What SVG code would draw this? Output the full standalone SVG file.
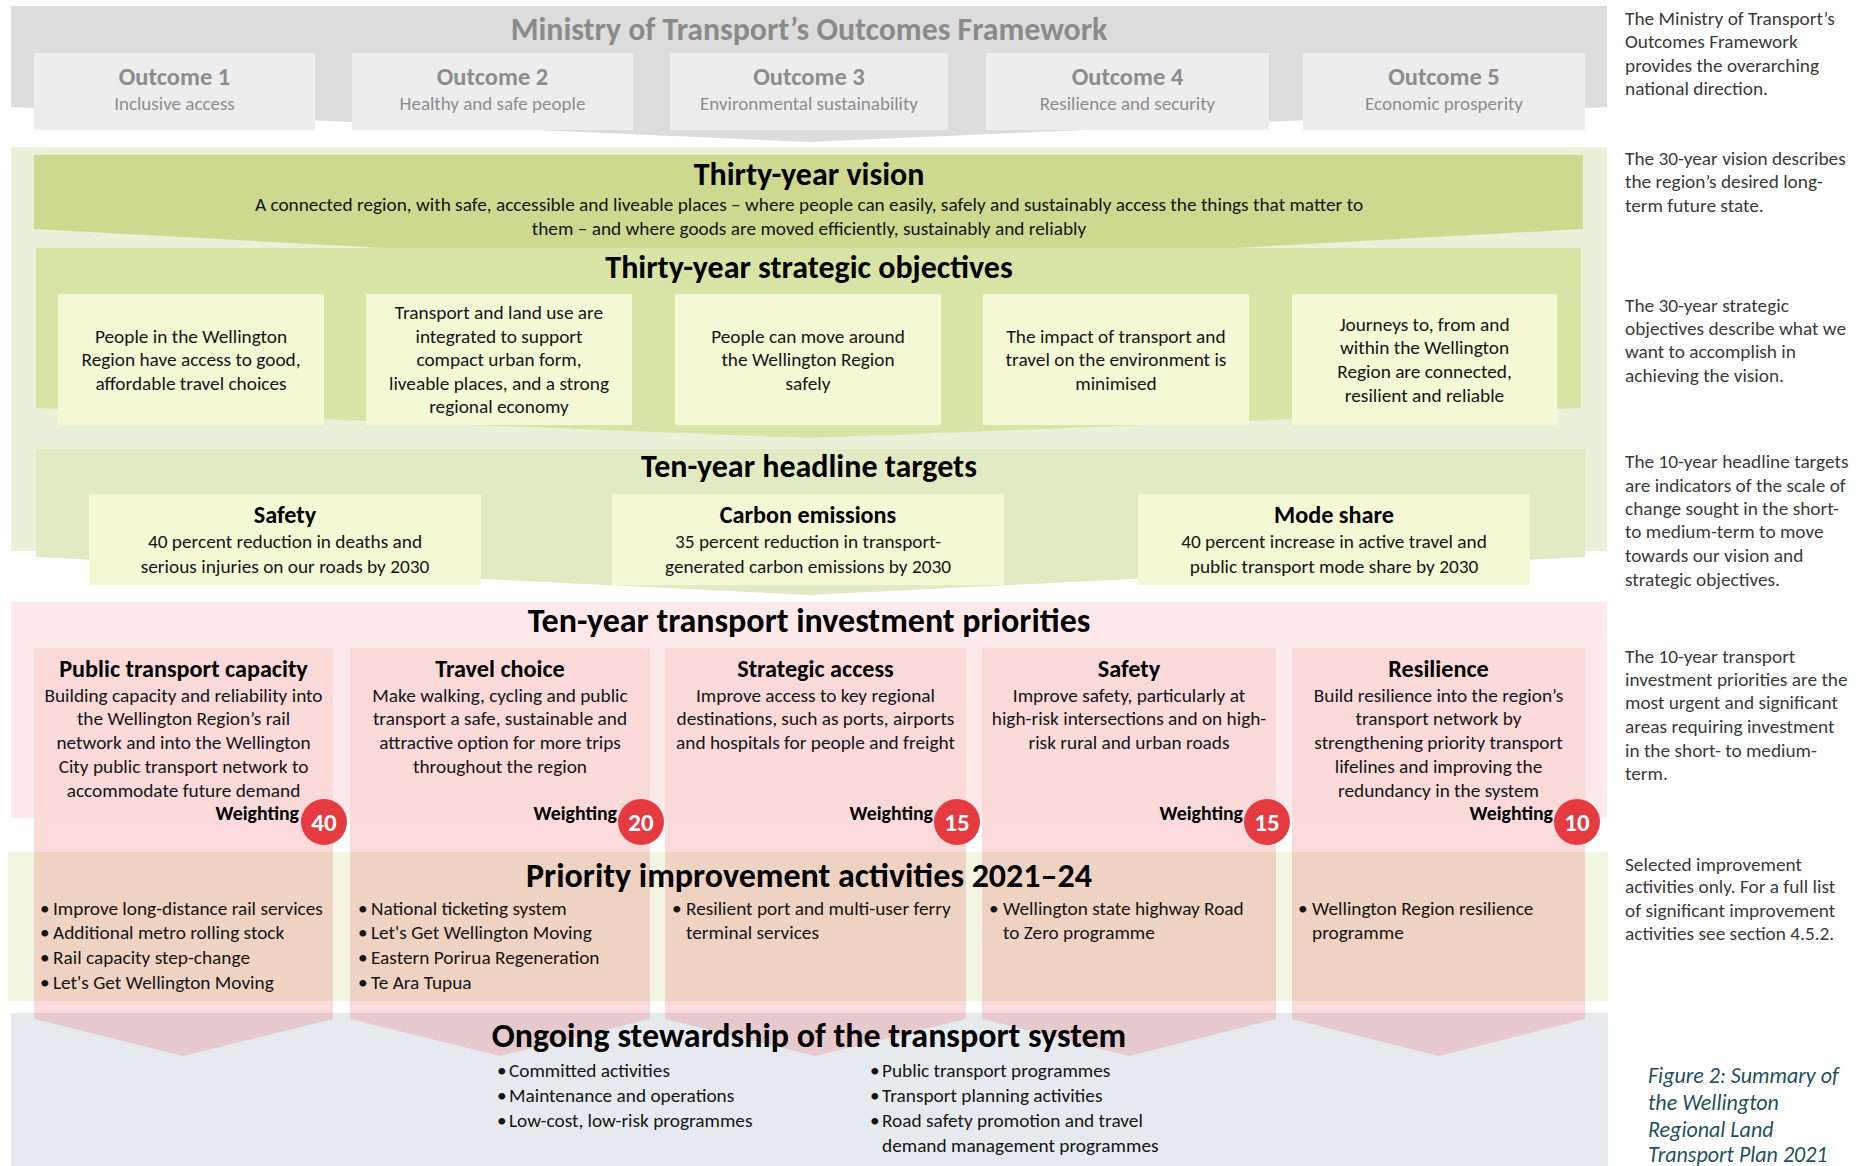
<svg xmlns="http://www.w3.org/2000/svg" width="1858" height="1166" viewBox="0 0 1858 1166">
<style>
text{font-family:Carlito,"Liberation Sans Narrow","Liberation Sans",sans-serif;fill:#141414}
.h{font-size:32px;font-weight:bold;text-anchor:middle;fill:#000}
.hb{font-size:34px;font-weight:bold;text-anchor:middle;fill:#000}
.ht{font-size:31.8px;font-weight:bold;text-anchor:middle;fill:#8a8a8a}
.ot{font-size:24.5px;font-weight:bold;text-anchor:middle;fill:#8c8c8c}
.os{font-size:19px;text-anchor:middle;fill:#8c8c8c}
.b{font-size:19.3px;text-anchor:middle}
.bl{font-size:19.3px}
.t{font-size:24.2px;font-weight:bold;text-anchor:middle;fill:#000}
.w{font-size:19.8px;font-weight:bold;text-anchor:end;fill:#000}
.n{font-size:25px;font-weight:bold;text-anchor:middle;fill:#fff}
.note{font-size:19.3px;fill:#3a3a3a}
.cap{font-size:22px;font-style:italic;fill:#1f4f5f}
.obox{fill:#ededed}
.gbox{fill:#f4f8d4}
.col{fill:#fad9d9}
.colx{fill:#e64646;fill-opacity:0.2}
.circ{fill:#e53a40}
</style>

<g id="bands">
  <polygon points="11,6 1607,6 1607,107 809,142 11,107" fill="#dcdcdc"/>
  <rect x="11" y="147" width="1596" height="404" fill="#ebf1d8"/>
  <polygon points="34,155 1583,155 1583,229 809,271 34,229" fill="#cdd98e"/>
  <polygon points="36,248 1581,248 1581,408 809,438 36,408" fill="#d8e3a6"/>
  <polygon points="36,449 1585,449 1585,557 809,595 36,557" fill="#e2eac3"/>
  <rect x="11" y="602" width="1596" height="216" fill="#fde9e9"/>
  <rect x="8" y="852" width="1600" height="149" fill="#f1f5e2"/>
  <rect x="11" y="1013" width="1597" height="153" fill="#e6eaee"/>
</g>

<g id="connectors"></g>

<g id="framework">
  <text class="ht" x="809" y="40">Ministry of Transport’s Outcomes Framework</text>
</g>
<g id="outcome1"><rect class="obox" x="34" y="53" width="281" height="77"/><text class="ot" x="174.5" y="85">Outcome 1</text><text class="os" x="174.5" y="110">Inclusive access</text></g>
<g id="outcome2"><rect class="obox" x="352" y="53" width="281" height="77"/><text class="ot" x="492.5" y="85">Outcome 2</text><text class="os" x="492.5" y="110">Healthy and safe people</text></g>
<g id="outcome3"><rect class="obox" x="670" y="53" width="278" height="77"/><text class="ot" x="809" y="85">Outcome 3</text><text class="os" x="809" y="110">Environmental sustainability</text></g>
<g id="outcome4"><rect class="obox" x="986" y="53" width="283" height="77"/><text class="ot" x="1127.5" y="85">Outcome 4</text><text class="os" x="1127.5" y="110">Resilience and security</text></g>
<g id="outcome5"><rect class="obox" x="1303" y="53" width="282" height="77"/><text class="ot" x="1444" y="85">Outcome 5</text><text class="os" x="1444" y="110">Economic prosperity</text></g>

<g id="vision">
  <text class="h" x="809" y="185">Thirty-year vision</text>
  <text class="b" x="809" y="211">A connected region, with safe, accessible and liveable places – where people can easily, safely and sustainably access the things that matter to</text>
  <text class="b" x="809" y="235">them – and where goods are moved efficiently, sustainably and reliably</text>
</g>

<g id="objectives">
  <text class="h" x="809" y="278">Thirty-year strategic objectives</text>
</g>
<g id="objective1"><rect class="gbox" x="58" y="294" width="266" height="131"/>
  <text class="b" x="191" y="343">People in the Wellington</text><text class="b" x="191" y="366">Region have access to good,</text><text class="b" x="191" y="390">affordable travel choices</text></g>
<g id="objective2"><rect class="gbox" x="366" y="294" width="266" height="131"/>
  <text class="b" x="499" y="319">Transport and land use are</text><text class="b" x="499" y="343">integrated to support</text><text class="b" x="499" y="366">compact urban form,</text><text class="b" x="499" y="390">liveable places, and a strong</text><text class="b" x="499" y="413">regional economy</text></g>
<g id="objective3"><rect class="gbox" x="675" y="294" width="266" height="131"/>
  <text class="b" x="808" y="343">People can move around</text><text class="b" x="808" y="366">the Wellington Region</text><text class="b" x="808" y="390">safely</text></g>
<g id="objective4"><rect class="gbox" x="983" y="294" width="266" height="131"/>
  <text class="b" x="1116" y="343">The impact of transport and</text><text class="b" x="1116" y="366">travel on the environment is</text><text class="b" x="1116" y="390">minimised</text></g>
<g id="objective5"><rect class="gbox" x="1292" y="294" width="265" height="131"/>
  <text class="b" x="1424.5" y="331">Journeys to, from and</text><text class="b" x="1424.5" y="354">within the Wellington</text><text class="b" x="1424.5" y="378">Region are connected,</text><text class="b" x="1424.5" y="402">resilient and reliable</text></g>

<g id="targets">
  <text class="h" x="809" y="477">Ten-year headline targets</text>
</g>
<g id="target-safety"><rect class="gbox" x="89" y="494" width="392" height="91"/>
  <text class="t" x="285" y="523">Safety</text><text class="b" x="285" y="548">40 percent reduction in deaths and</text><text class="b" x="285" y="573">serious injuries on our roads by 2030</text></g>
<g id="target-carbon"><rect class="gbox" x="612" y="494" width="392" height="91"/>
  <text class="t" x="808" y="523">Carbon emissions</text><text class="b" x="808" y="548">35 percent reduction in transport-</text><text class="b" x="808" y="573">generated carbon emissions by 2030</text></g>
<g id="target-mode"><rect class="gbox" x="1138" y="494" width="392" height="91"/>
  <text class="t" x="1334" y="523">Mode share</text><text class="b" x="1334" y="548">40 percent increase in active travel and</text><text class="b" x="1334" y="573">public transport mode share by 2030</text></g>

<g id="priority-columns">
  <rect class="col" x="34" y="648" width="299" height="170"/><polygon class="colx" points="34,818 333,818 333,1019 183.5,1056 34,1019"/>
  <rect class="col" x="350" y="648" width="300" height="170"/><polygon class="colx" points="350,818 650,818 650,1019 500,1056 350,1019"/>
  <rect class="col" x="665" y="648" width="301" height="170"/><polygon class="colx" points="665,818 966,818 966,1019 815.5,1056 665,1019"/>
  <rect class="col" x="982" y="648" width="294" height="170"/><polygon class="colx" points="982,818 1276,818 1276,1019 1129,1056 982,1019"/>
  <rect class="col" x="1292" y="648" width="293" height="170"/><polygon class="colx" points="1292,818 1585,818 1585,1019 1438.5,1056 1292,1019"/>
</g>

<g id="investment">
  <text class="hb" x="809" y="632">Ten-year transport investment priorities</text>
</g>
<g id="priority1">
  <text class="t" x="183.5" y="677">Public transport capacity</text>
  <text class="b" x="183.5" y="702">Building capacity and reliability into</text>
  <text class="b" x="183.5" y="725">the Wellington Region’s rail</text>
  <text class="b" x="183.5" y="749">network and into the Wellington</text>
  <text class="b" x="183.5" y="773">City public transport network to</text>
  <text class="b" x="183.5" y="797">accommodate future demand</text>
  <text class="w" x="299" y="820">Weighting</text>
  <circle class="circ" cx="324" cy="822" r="23"/><text class="n" x="324" y="831">40</text>
</g>
<g id="priority2">
  <text class="t" x="500" y="677">Travel choice</text>
  <text class="b" x="500" y="702">Make walking, cycling and public</text>
  <text class="b" x="500" y="725">transport a safe, sustainable and</text>
  <text class="b" x="500" y="749">attractive option for more trips</text>
  <text class="b" x="500" y="773">throughout the region</text>
  <text class="w" x="617" y="820">Weighting</text>
  <circle class="circ" cx="641" cy="822" r="23"/><text class="n" x="641" y="831">20</text>
</g>
<g id="priority3">
  <text class="t" x="815.5" y="677">Strategic access</text>
  <text class="b" x="815.5" y="702">Improve access to key regional</text>
  <text class="b" x="815.5" y="725">destinations, such as ports, airports</text>
  <text class="b" x="815.5" y="749">and hospitals for people and freight</text>
  <text class="w" x="933" y="820">Weighting</text>
  <circle class="circ" cx="957" cy="822" r="23"/><text class="n" x="957" y="831">15</text>
</g>
<g id="priority4">
  <text class="t" x="1129" y="677">Safety</text>
  <text class="b" x="1129" y="702">Improve safety, particularly at</text>
  <text class="b" x="1129" y="725">high-risk intersections and on high-</text>
  <text class="b" x="1129" y="749">risk rural and urban roads</text>
  <text class="w" x="1243" y="820">Weighting</text>
  <circle class="circ" cx="1267" cy="822" r="23"/><text class="n" x="1267" y="831">15</text>
</g>
<g id="priority5">
  <text class="t" x="1438.5" y="677">Resilience</text>
  <text class="b" x="1438.5" y="702">Build resilience into the region’s</text>
  <text class="b" x="1438.5" y="725">transport network by</text>
  <text class="b" x="1438.5" y="749">strengthening priority transport</text>
  <text class="b" x="1438.5" y="773">lifelines and improving the</text>
  <text class="b" x="1438.5" y="797">redundancy in the system</text>
  <text class="w" x="1553" y="820">Weighting</text>
  <circle class="circ" cx="1577" cy="822" r="23"/><text class="n" x="1577" y="831">10</text>
</g>

<g id="activities">
  <text class="hb" x="809" y="887">Priority improvement activities 2021–24</text>
</g>
<g id="activities1">
  <text class="bl" x="40" y="915">•</text><text class="bl" x="53" y="915">Improve long-distance rail services</text>
  <text class="bl" x="40" y="939">•</text><text class="bl" x="53" y="939">Additional metro rolling stock</text>
  <text class="bl" x="40" y="964">•</text><text class="bl" x="53" y="964">Rail capacity step-change</text>
  <text class="bl" x="40" y="989">•</text><text class="bl" x="53" y="989">Let's Get Wellington Moving</text>
</g>
<g id="activities2">
  <text class="bl" x="358" y="915">•</text><text class="bl" x="371" y="915">National ticketing system</text>
  <text class="bl" x="358" y="939">•</text><text class="bl" x="371" y="939">Let's Get Wellington Moving</text>
  <text class="bl" x="358" y="964">•</text><text class="bl" x="371" y="964">Eastern Porirua Regeneration</text>
  <text class="bl" x="358" y="989">•</text><text class="bl" x="371" y="989">Te Ara Tupua</text>
</g>
<g id="activities3">
  <text class="bl" x="672" y="915">•</text><text class="bl" x="686" y="915">Resilient port and multi-user ferry</text>
  <text class="bl" x="686" y="939">terminal services</text>
</g>
<g id="activities4">
  <text class="bl" x="989" y="915">•</text><text class="bl" x="1003" y="915">Wellington state highway Road</text>
  <text class="bl" x="1003" y="939">to Zero programme</text>
</g>
<g id="activities5">
  <text class="bl" x="1298" y="915">•</text><text class="bl" x="1312" y="915">Wellington Region resilience</text>
  <text class="bl" x="1312" y="939">programme</text>
</g>

<g id="stewardship">
  <text class="hb" x="809" y="1047">Ongoing stewardship of the transport system</text>
  <text class="bl" x="497" y="1077">•</text><text class="bl" x="509" y="1077">Committed activities</text>
  <text class="bl" x="497" y="1102">•</text><text class="bl" x="509" y="1102">Maintenance and operations</text>
  <text class="bl" x="497" y="1127">•</text><text class="bl" x="509" y="1127">Low-cost, low-risk programmes</text>
  <text class="bl" x="870" y="1077">•</text><text class="bl" x="882" y="1077">Public transport programmes</text>
  <text class="bl" x="870" y="1102">•</text><text class="bl" x="882" y="1102">Transport planning activities</text>
  <text class="bl" x="870" y="1127">•</text><text class="bl" x="882" y="1127">Road safety promotion and travel</text>
  <text class="bl" x="882" y="1152">demand management programmes</text>
</g>

<g id="notes">
  <text class="note" x="1625" y="25">The Ministry of Transport’s</text>
  <text class="note" x="1625" y="48">Outcomes Framework</text>
  <text class="note" x="1625" y="72">provides the overarching</text>
  <text class="note" x="1625" y="95">national direction.</text>
  <text class="note" x="1625" y="165">The 30-year vision describes</text>
  <text class="note" x="1625" y="188">the region’s desired long-</text>
  <text class="note" x="1625" y="212">term future state.</text>
  <text class="note" x="1625" y="312">The 30-year strategic</text>
  <text class="note" x="1625" y="335">objectives describe what we</text>
  <text class="note" x="1625" y="358">want to accomplish in</text>
  <text class="note" x="1625" y="382">achieving the vision.</text>
  <text class="note" x="1625" y="468">The 10-year headline targets</text>
  <text class="note" x="1625" y="492">are indicators of the scale of</text>
  <text class="note" x="1625" y="515">change sought in the short-</text>
  <text class="note" x="1625" y="538">to medium-term to move</text>
  <text class="note" x="1625" y="562">towards our vision and</text>
  <text class="note" x="1625" y="586">strategic objectives.</text>
  <text class="note" x="1625" y="663">The 10-year transport</text>
  <text class="note" x="1625" y="686">investment priorities are the</text>
  <text class="note" x="1625" y="709">most urgent and significant</text>
  <text class="note" x="1625" y="733">areas requiring investment</text>
  <text class="note" x="1625" y="757">in the short- to medium-</text>
  <text class="note" x="1625" y="780">term.</text>
  <text class="note" x="1625" y="871">Selected improvement</text>
  <text class="note" x="1625" y="893">activities only. For a full list</text>
  <text class="note" x="1625" y="917">of significant improvement</text>
  <text class="note" x="1625" y="940">activities see section 4.5.2.</text>
  <text class="cap" x="1648" y="1083">Figure 2: Summary of</text>
  <text class="cap" x="1648" y="1110">the Wellington</text>
  <text class="cap" x="1648" y="1137">Regional Land</text>
  <text class="cap" x="1648" y="1162">Transport Plan 2021</text>
</g>
</svg>
